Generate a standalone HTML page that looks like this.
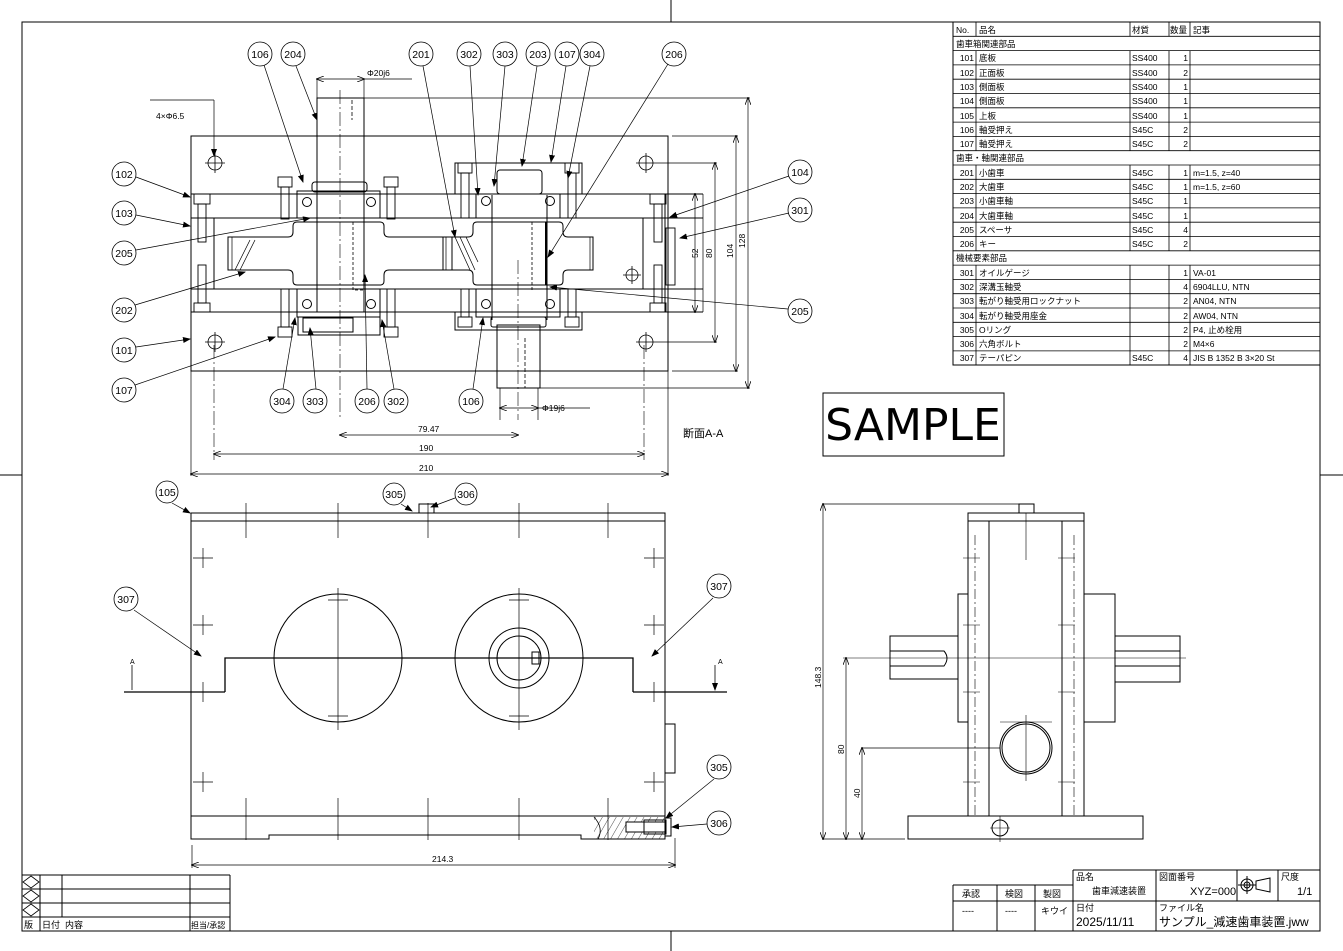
<!DOCTYPE html>
<html><head><meta charset="utf-8"><style>
html,body{margin:0;padding:0;background:#fff}
svg{display:block}
text{font-family:"Liberation Sans","Noto Sans CJK JP",sans-serif;fill:#000}
.t{font-size:8.5px}
.b{font-size:10.5px}
</style></head><body>
<svg width="1343" height="951" viewBox="0 0 1343 951" xmlns="http://www.w3.org/2000/svg">
<defs>
<marker id="a" markerWidth="8" markerHeight="6" refX="7" refY="3" orient="auto" markerUnits="userSpaceOnUse"><path d="M0,0 L8,3 L0,6 Z" fill="#000"/></marker>
<marker id="d" markerWidth="8" markerHeight="6" refX="7" refY="3" orient="auto-start-reverse" markerUnits="userSpaceOnUse"><path d="M0,0 L8,3 L0,6" fill="none" stroke="#000" stroke-width="0.8"/></marker>
<pattern id="h" width="6" height="6" patternUnits="userSpaceOnUse" patternTransform="rotate(30)"><line x1="0" y1="0" x2="0" y2="6" stroke="#000" stroke-width="0.7"/></pattern>
</defs>
<g fill="none" stroke="#000" stroke-width="1">
<rect x="22" y="22" width="1298" height="909"/>
<line x1="671" y1="0" x2="671" y2="22"/><line x1="671" y1="931" x2="671" y2="951"/>
<line x1="0" y1="475" x2="22" y2="475"/><line x1="1320" y1="475" x2="1343" y2="475"/>

<rect x="191" y="136" width="477" height="235"/>
<line x1="191" y1="194" x2="703" y2="194"/><line x1="191" y1="218" x2="703" y2="218"/>
<line x1="191" y1="289" x2="703" y2="289"/><line x1="191" y1="312" x2="703" y2="312"/>
<line x1="703" y1="194" x2="703" y2="312" stroke-width="0.7"/>
<line x1="214" y1="218" x2="214" y2="289"/><line x1="643" y1="218" x2="643" y2="289"/><line x1="665" y1="194" x2="665" y2="312"/>
<g stroke-width="0.8">
<circle cx="215" cy="163" r="7"/><circle cx="646" cy="163" r="7"/><circle cx="215" cy="342" r="7"/><circle cx="646" cy="342" r="7"/><circle cx="632" cy="275" r="6"/>
<path d="M205,163h20M215,153v20M636,163h20M646,153v20M205,342h20M215,332v20M636,342h20M646,332v20M623,275h18M632,266v18"/>
</g>
<rect x="317" y="98" width="47" height="84"/>
<rect x="497" y="325" width="43" height="63"/>
<path d="M317,182V312M364,182V312M492,195V320M547,195V320"/>
<path d="M352,100V120M525,338V388" stroke-dasharray="4,2" stroke-width="0.8"/>
<path d="M353,222V290H365M532,222V290" stroke-dasharray="3,2" stroke-width="0.8"/>
<path d="M228,237H288Q293,237 293,232V226Q293,222 297,222H380Q384,222 384,226V232Q384,237 389,237H452V270H389Q384,270 384,275V281Q384,285 380,285H297Q293,285 293,281V275Q293,270 288,270H228Z"/>
<path d="M443,237H468Q473,237 473,232V226Q473,222 477,222H559Q563,222 563,226V232Q563,237 568,237H593V270H568Q563,270 563,275V281Q563,285 559,285H477Q473,285 473,281V275Q473,270 468,270H443Z"/>
<path d="M232,237V270M446,237V270M590,237V270M235,270L250,240M240,270L255,240M455,237L470,270M460,237L475,270M466,237L478,262" stroke-width="0.7"/>
<line x1="546" y1="222" x2="546" y2="285" stroke-width="2"/>
<rect x="297" y="191" width="83" height="27"/><rect x="297" y="289" width="83" height="28"/>
<rect x="312" y="182" width="55" height="10" rx="3"/>
<circle cx="307" cy="202" r="4.5"/><circle cx="371" cy="202" r="4.5"/><circle cx="307" cy="304" r="4.5"/><circle cx="371" cy="304" r="4.5"/>
<rect x="298" y="317" width="82" height="18"/><rect x="303" y="318" width="50" height="14"/>
<rect x="476" y="194" width="84" height="24"/><rect x="476" y="289" width="84" height="28"/>
<rect x="455" y="163" width="127" height="31"/><rect x="455" y="312" width="127" height="18"/>
<rect x="497" y="170" width="45" height="24" rx="3"/><rect x="491" y="317" width="55" height="10" rx="2"/>
<circle cx="486" cy="201" r="4.5"/><circle cx="550" cy="201" r="4.5"/><circle cx="486" cy="304" r="4.5"/><circle cx="550" cy="304" r="4.5"/>
<g stroke-width="0.9">
<rect x="278" y="177" width="14" height="10"/><rect x="281" y="187" width="8" height="32"/><rect x="278" y="327" width="14" height="10"/><rect x="281" y="289" width="8" height="38"/>
<rect x="384" y="177" width="14" height="10"/><rect x="387" y="187" width="8" height="32"/><rect x="384" y="327" width="14" height="10"/><rect x="387" y="289" width="8" height="38"/>
<rect x="458" y="163" width="14" height="10"/><rect x="461" y="173" width="8" height="45"/><rect x="458" y="317" width="14" height="10"/><rect x="461" y="289" width="8" height="28"/>
<rect x="565" y="163" width="14" height="10"/><rect x="568" y="173" width="8" height="45"/><rect x="565" y="317" width="14" height="10"/><rect x="568" y="289" width="8" height="28"/>
<rect x="194" y="194" width="16" height="10"/><rect x="198" y="204" width="8" height="38"/><rect x="194" y="303" width="16" height="9"/><rect x="198" y="265" width="8" height="38"/>
<rect x="650" y="194" width="16" height="10"/><rect x="654" y="204" width="8" height="38"/><rect x="650" y="303" width="16" height="9"/><rect x="654" y="265" width="8" height="38"/>
<rect x="666" y="228" width="9" height="57"/>
</g>
<path d="M340,90V420M518,260V420M214,345V460M644,345V460" stroke-width="0.6" stroke-dasharray="14,3,2,3"/>
<g stroke-width="0.7">
<path d="M317,79H364" marker-start="url(#d)" marker-end="url(#d)"/><path d="M364,79H412M317,79V98M364,79V98"/>
<path d="M500,408H538" marker-start="url(#d)" marker-end="url(#d)"/><path d="M538,408H590M500,388V420M538,388V420"/>
<path d="M340,435H518" marker-start="url(#d)" marker-end="url(#d)"/>
<path d="M214,454H644" marker-start="url(#d)" marker-end="url(#d)"/>
<path d="M191,474H668" marker-start="url(#d)" marker-end="url(#d)"/><path d="M191,371V476M668,371V476"/>
<path d="M748,98V388" marker-start="url(#d)" marker-end="url(#d)"/><path d="M364,98H750M540,388H750"/>
<path d="M736,136V371" marker-start="url(#d)" marker-end="url(#d)"/><path d="M672,136H738M672,371H738"/>
<path d="M715,163V342" marker-start="url(#d)" marker-end="url(#d)"/><path d="M656,163H717M656,342H717"/>
<path d="M695,194V312" marker-start="url(#d)" marker-end="url(#d)"/>
<path d="M214,100L214,156" marker-end="url(#a)"/><path d="M150,100H214"/>
</g>
<g stroke-width="0.7" marker-end="url(#a)">
<path d="M264,65L303,182"/><path d="M296,66L317,120"/><path d="M423,66L455,237"/><path d="M470,66L478,195"/><path d="M505,66L494,186"/><path d="M537,66L522,166"/><path d="M566,66L551,162"/><path d="M590,66L568,178"/><path d="M668,64L548,257"/>
<path d="M136,177L190,197"/><path d="M136,215L190,226"/><path d="M136,250L310,218"/><path d="M135,305L245,272"/><path d="M136,347L190,339"/><path d="M135,385L275,337"/>
<path d="M283,389L295,318"/><path d="M316,389L310,328"/><path d="M367,389L365,275"/><path d="M394,389L382,320"/><path d="M473,389L483,318"/>
<path d="M789,176L670,217"/><path d="M789,213L680,238"/><path d="M788,309L550,287"/>
</g>
<g stroke-width="0.8">
<circle cx="260" cy="54" r="12"/><circle cx="293" cy="54" r="12"/><circle cx="421" cy="54" r="12"/><circle cx="469" cy="54" r="12"/><circle cx="505" cy="54" r="12"/><circle cx="538" cy="54" r="12"/><circle cx="567" cy="54" r="12"/><circle cx="592" cy="54" r="12"/><circle cx="674" cy="54" r="12"/>
<circle cx="124" cy="174" r="12"/><circle cx="124" cy="213" r="12"/><circle cx="124" cy="253" r="12"/><circle cx="124" cy="310" r="12"/><circle cx="124" cy="350" r="12"/><circle cx="124" cy="390" r="12"/>
<circle cx="282" cy="401" r="12"/><circle cx="315" cy="401" r="12"/><circle cx="367" cy="401" r="12"/><circle cx="396" cy="401" r="12"/><circle cx="471" cy="401" r="12"/>
<circle cx="800" cy="172" r="12"/><circle cx="800" cy="210" r="12"/><circle cx="800" cy="311" r="12"/>
<circle cx="167" cy="492" r="11"/><circle cx="394" cy="494" r="11"/><circle cx="466" cy="494" r="11"/><circle cx="126" cy="599" r="12"/><circle cx="719" cy="586" r="12"/><circle cx="719" cy="767" r="12"/><circle cx="719" cy="823" r="12"/>
</g>

<rect x="191" y="513" width="474" height="8"/>
<path d="M191,521V839H269V835H581V839H665V521"/>
<line x1="191" y1="816" x2="665" y2="816"/>
<rect x="594" y="817" width="71" height="22" fill="url(#h)" stroke="none"/>
<path d="M594,817Q604,828 598,839" stroke-width="0.8"/>
<rect x="626" y="822" width="40" height="10" fill="#fff"/>
<rect x="644" y="820" width="22" height="14"/><rect x="665" y="818" width="6" height="18"/>
<rect x="419" y="504" width="15" height="9"/>
<rect x="665" y="724" width="10" height="49"/>
<circle cx="338" cy="658" r="64"/><circle cx="519" cy="658" r="64"/>
<circle cx="519" cy="658" r="30"/><circle cx="519" cy="658" r="22"/>
<rect x="532" y="652" width="7" height="12"/>
<path d="M225,692V658H633V692M124,692H225M633,692H727" stroke-width="1.3"/>
<path d="M132,665V690M715,665V690" stroke-width="0.8" marker-end="url(#a)"/>
<g stroke-width="0.7">
<path d="M338,588V730M264,658H412M328,600H348M328,716H348M519,588V730M445,658H593M509,600H529M509,716H529"/>
<path d="M246,503V538M338,503V538M428,503V538M519,503V538M608,503V538M246,798V840M338,798V840M428,798V840M519,798V840M608,798V840"/>
<path d="M193,558H213M203,548V568M193,625H213M203,615V635M193,692H213M203,682V702M193,782H213M203,772V792"/>
<path d="M644,558H664M654,548V568M644,625H664M654,615V635M644,692H664M654,682V702M644,782H664M654,772V792"/>
<path d="M192,845V868M675,838V868"/>
<path d="M192,865H675" marker-start="url(#d)" marker-end="url(#d)"/>
</g>
<g stroke-width="0.7" marker-end="url(#a)">
<path d="M172,503L190,513"/><path d="M401,504L412,511"/><path d="M455,498L431,507"/><path d="M134,610L201,656"/><path d="M713,598L652,656"/><path d="M714,779L666,818"/><path d="M707,824L672,827"/>
</g>

<rect x="968" y="513" width="116" height="8"/>
<rect x="1019" y="504" width="15" height="9"/>
<path d="M968,521V816M989,521V816M1062,521V816M1084,521V816"/>
<path d="M968,594H958V722H968M1084,594H1115V722H1084"/>
<path d="M958,636H890V679H958M890,651H944Q950,658 944,666H890"/>
<path d="M1115,636H1180V682H1115M1115,651H1180M1115,666H1180"/>
<rect x="908" y="816" width="235" height="23"/>
<circle cx="1000" cy="828" r="8"/>
<circle cx="1026" cy="748" r="26"/><circle cx="1026" cy="748" r="24"/>
<g stroke-width="0.6">
<path d="M843,658H1186M1026,513V560M1026,715V781M1000,816V842M990,828H1010M1000,722H1052"/>
<path d="M963,558H980M1058,558H1075M963,625H980M1058,625H1075M963,692H980M1058,692H1075M963,782H980M1058,782H1075"/>
<path d="M975,535V815M1074,535V815" stroke-dasharray="10,3,2,3"/>
</g>
<g stroke-width="0.7">
<path d="M823,504V839" marker-start="url(#d)" marker-end="url(#d)"/><path d="M823,504H1019M823,839H905"/>
<path d="M846,658V839" marker-start="url(#d)" marker-end="url(#d)"/>
<path d="M862,748V839" marker-start="url(#d)" marker-end="url(#d)"/><path d="M862,748H1000"/>
</g>

<rect x="823" y="393" width="181" height="63"/>

<rect x="953" y="22" width="367" height="343"/>
<g stroke-width="0.8">
<path d="M953,36.3H1320M953,50.6H1320M953,64.9H1320M953,79.2H1320M953,93.5H1320M953,107.8H1320M953,122.1H1320M953,136.4H1320M953,150.7H1320M953,165H1320M953,179.3H1320M953,193.6H1320M953,207.9H1320M953,222.2H1320M953,236.5H1320M953,250.8H1320M953,265.1H1320M953,279.4H1320M953,293.7H1320M953,308H1320M953,322.3H1320M953,336.6H1320M953,350.9H1320"/>
<path d="M976,22V36.3M1130,22V36.3M1169,22V36.3M1190,22V36.3"/>
<path d="M976,50.6V150.7M1130,50.6V150.7M1169,50.6V150.7M1190,50.6V150.7"/>
<path d="M976,165V250.8M1130,165V250.8M1169,165V250.8M1190,165V250.8"/>
<path d="M976,265.1V365M1130,265.1V365M1169,265.1V365M1190,265.1V365"/>
</g>

<path d="M1073,870H1320M953,885H1073M953,901H1320M953,885V931M997,885V931M1035,885V931M1073,870V931M1156,870V931M1237,870V901M1278,870V901M1320,870V931M953,931H1320"/>
<path d="M22,875H230M22,889H230M22,903H230M22,917H230M22,931H230M40,875V931M62,875V917M190,875V931M230,875V931"/>
<path d="M31,876L39,882L31,888L23,882ZM31,890L39,896L31,902L23,896ZM31,904L39,910L31,916L23,910Z" stroke-width="0.8"/>
<circle cx="1247" cy="885" r="6"/><circle cx="1247" cy="885" r="3"/><path d="M1238,885H1256M1247,876V894M1256,881L1270,878V892L1256,889Z"/>
</g>

<g class="b" text-anchor="middle">
<text x="260" y="58">106</text><text x="293" y="58">204</text><text x="421" y="58">201</text><text x="469" y="58">302</text><text x="505" y="58">303</text><text x="538" y="58">203</text><text x="567" y="58">107</text><text x="592" y="58">304</text><text x="674" y="58">206</text>
<text x="124" y="178">102</text><text x="124" y="217">103</text><text x="124" y="257">205</text><text x="124" y="314">202</text><text x="124" y="354">101</text><text x="124" y="394">107</text>
<text x="282" y="405">304</text><text x="315" y="405">303</text><text x="367" y="405">206</text><text x="396" y="405">302</text><text x="471" y="405">106</text>
<text x="800" y="176">104</text><text x="800" y="214">301</text><text x="800" y="315">205</text>
<text x="167" y="496">105</text><text x="394" y="498">305</text><text x="466" y="498">306</text><text x="126" y="603">307</text><text x="719" y="590">307</text><text x="719" y="771">305</text><text x="719" y="827">306</text>
</g>
<g class="t">
<text x="367" y="76">Φ20j6</text><text x="156" y="119">4×Φ6.5</text><text x="542" y="411">Φ19j6</text>
<text x="418" y="432">79.47</text><text x="419" y="451">190</text><text x="419" y="471">210</text>
<text x="432" y="862">214.3</text>
<text x="130" y="664" font-size="7">A</text><text x="718" y="664" font-size="7">A</text>
<text transform="translate(745,248) rotate(-90)">128</text>
<text transform="translate(733,258) rotate(-90)">104</text>
<text transform="translate(712,258) rotate(-90)">80</text>
<text transform="translate(698,258) rotate(-90)">52</text>
<text transform="translate(821,688) rotate(-90)">148.3</text>
<text transform="translate(844,754) rotate(-90)">80</text>
<text transform="translate(860,798) rotate(-90)">40</text>
</g>
<text x="683" y="437" font-size="11">断面A-A</text>
<text x="913" y="440" font-size="44" text-anchor="middle" style="font-family:'DejaVu Sans',sans-serif">SAMPLE</text>

<g class="t">
<text x="956" y="33">No.</text><text x="979" y="33">品名</text><text x="1132" y="33">材質</text><text x="1170" y="33">数量</text><text x="1193" y="33">記事</text>
<text x="956" y="47">歯車箱関連部品</text>
<text x="956" y="161">歯車・軸関連部品</text>
<text x="956" y="261">機械要素部品</text>
</g>
<g class="t" text-anchor="end">
<text x="974" y="61">101</text><text x="974" y="76">102</text><text x="974" y="90">103</text><text x="974" y="104">104</text><text x="974" y="119">105</text><text x="974" y="133">106</text><text x="974" y="147">107</text>
<text x="974" y="176">201</text><text x="974" y="190">202</text><text x="974" y="204">203</text><text x="974" y="219">204</text><text x="974" y="233">205</text><text x="974" y="247">206</text>
<text x="974" y="276">301</text><text x="974" y="290">302</text><text x="974" y="304">303</text><text x="974" y="319">304</text><text x="974" y="333">305</text><text x="974" y="347">306</text><text x="974" y="361">307</text>
<text x="1188" y="61">1</text><text x="1188" y="76">2</text><text x="1188" y="90">1</text><text x="1188" y="104">1</text><text x="1188" y="119">1</text><text x="1188" y="133">2</text><text x="1188" y="147">2</text>
<text x="1188" y="176">1</text><text x="1188" y="190">1</text><text x="1188" y="204">1</text><text x="1188" y="219">1</text><text x="1188" y="233">4</text><text x="1188" y="247">2</text>
<text x="1188" y="276">1</text><text x="1188" y="290">4</text><text x="1188" y="304">2</text><text x="1188" y="319">2</text><text x="1188" y="333">2</text><text x="1188" y="347">2</text><text x="1188" y="361">4</text>
</g>
<g class="t">
<text x="979" y="61">底板</text><text x="979" y="76">正面板</text><text x="979" y="90">側面板</text><text x="979" y="104">側面板</text><text x="979" y="119">上板</text><text x="979" y="133">軸受押え</text><text x="979" y="147">軸受押え</text>
<text x="979" y="176">小歯車</text><text x="979" y="190">大歯車</text><text x="979" y="204">小歯車軸</text><text x="979" y="219">大歯車軸</text><text x="979" y="233">スペーサ</text><text x="979" y="247">キー</text>
<text x="979" y="276">オイルゲージ</text><text x="979" y="290">深溝玉軸受</text><text x="979" y="304">転がり軸受用ロックナット</text><text x="979" y="319">転がり軸受用座金</text><text x="979" y="333">Oリング</text><text x="979" y="347">六角ボルト</text><text x="979" y="361">テーパピン</text>
<text x="1132" y="61">SS400</text><text x="1132" y="76">SS400</text><text x="1132" y="90">SS400</text><text x="1132" y="104">SS400</text><text x="1132" y="119">SS400</text><text x="1132" y="133">S45C</text><text x="1132" y="147">S45C</text>
<text x="1132" y="176">S45C</text><text x="1132" y="190">S45C</text><text x="1132" y="204">S45C</text><text x="1132" y="219">S45C</text><text x="1132" y="233">S45C</text><text x="1132" y="247">S45C</text><text x="1132" y="361">S45C</text>
<text x="1193" y="176">m=1.5, z=40</text><text x="1193" y="190">m=1.5, z=60</text>
<text x="1193" y="276">VA-01</text><text x="1193" y="290">6904LLU, NTN</text><text x="1193" y="304">AN04, NTN</text><text x="1193" y="319">AW04, NTN</text><text x="1193" y="333">P4, 止め栓用</text><text x="1193" y="347">M4×6</text><text x="1193" y="361">JIS B 1352 B 3×20 St</text>
</g>

<g font-size="9">
<text x="962" y="897">承認</text><text x="1005" y="897">検図</text><text x="1043" y="897">製図</text>
<text x="962" y="914">----</text><text x="1005" y="914">----</text><text x="1041" y="914">キウイ</text>
<text x="1076" y="880">品名</text><text x="1092" y="894">歯車減速装置</text>
<text x="1159" y="880">図面番号</text><text x="1190" y="895" font-size="11">XYZ=000</text>
<text x="1281" y="880">尺度</text><text x="1297" y="895" font-size="11">1/1</text>
<text x="1076" y="911">日付</text><text x="1076" y="926" font-size="12">2025/11/11</text>
<text x="1159" y="911">ファイル名</text><text x="1159" y="926" font-size="12">サンプル_減速歯車装置.jww</text>
<text x="24" y="928">版</text><text x="42" y="928">日付</text><text x="65" y="928">内容</text><text x="191" y="928" font-size="8">担当/承認</text>
</g>
</svg>
</body></html>
